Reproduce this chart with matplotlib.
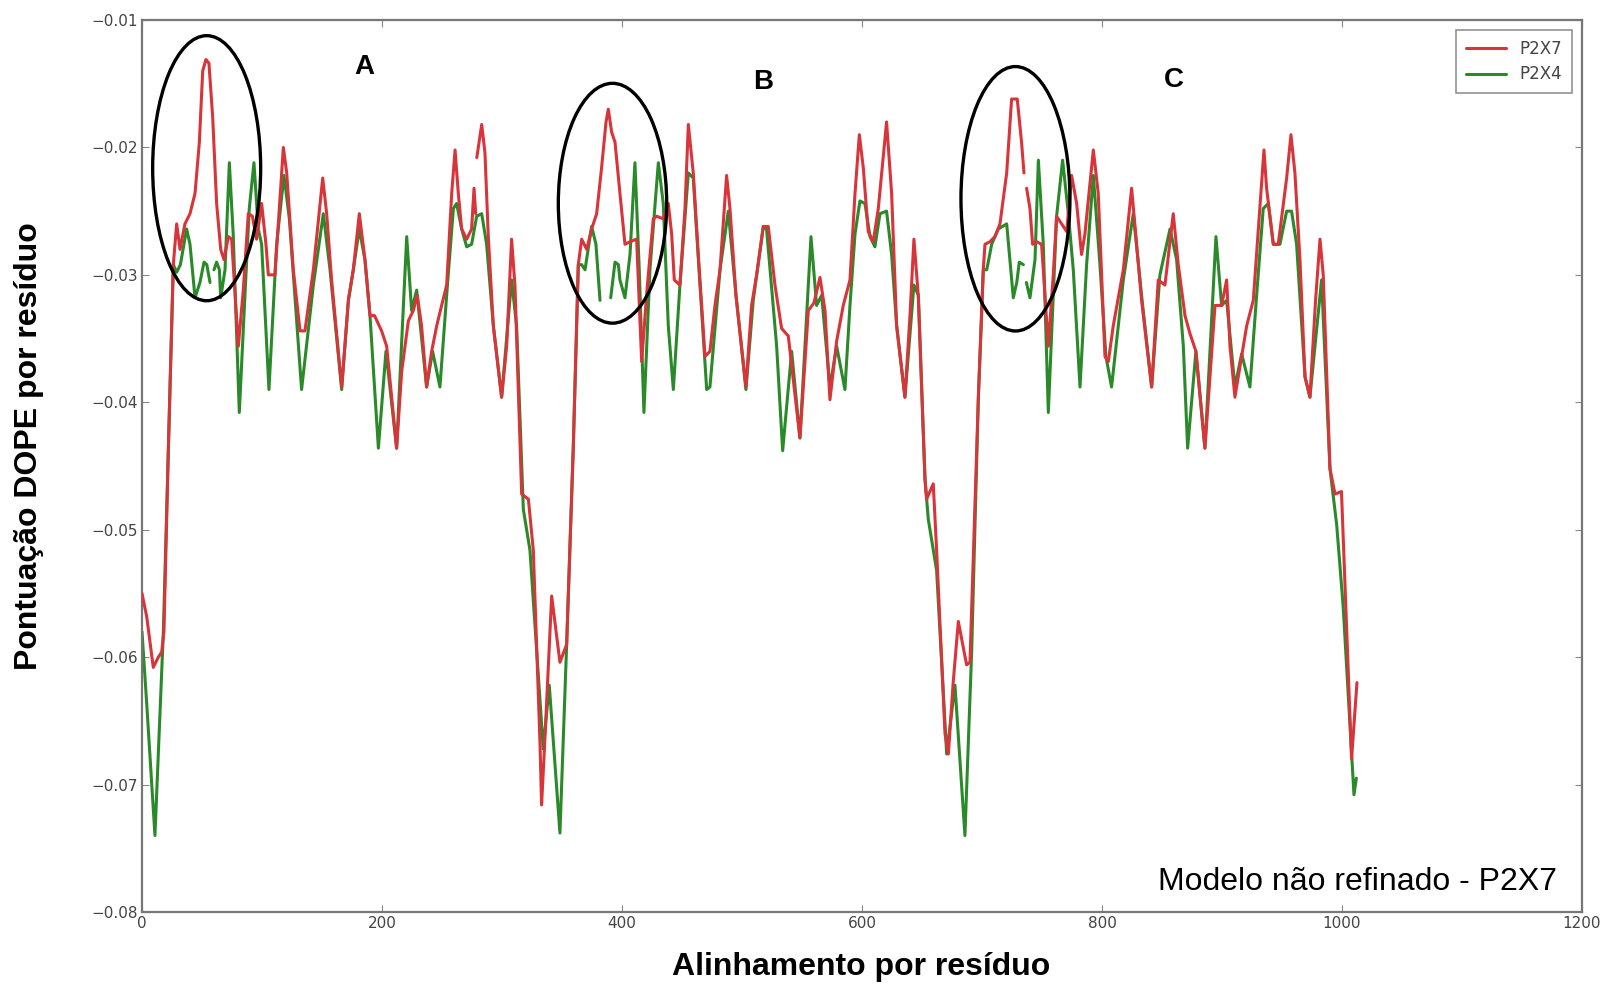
import numpy as np
import matplotlib
matplotlib.use("Agg")
import matplotlib.pyplot as plt
from matplotlib.patches import Ellipse

nan = np.nan

# ---------------- data ----------------
p2x7_x = [0, 3.9, 9.4, 13.6, 16.4, 18.3, 22, 26.1, 28.9, 31.7, 35.8, 40, 44.2, 47.8, 50.6, 53.3, 55.8, 58.9,
          62.2, 65.6, 68.3, 72, 74.7, 80.3, 84.4, 88.6, 92, 95.5, 99.7, 103.3, 105.3, 110.8, 117.8, 120.6,
          126.1, 131.7, 135.8, 142.8, 150.6, 153.9, 158, 166.4, 172, 176.1, 181.1, 185.8, 190, 193.8, 199.7,
          203.9, 212.2, 216.4, 222, 226.1, 229.4, 233, 237.2, 241.4, 245.6, 249.7, 253.9, 258.1, 260.9,
          263.6, 266.4, 270.6, 274.7, 276.7, 278.1, 278.5, 279, 283.1, 285.8, 288.6, 292.8, 299.7, 303.9,
          308, 310.8, 316.4, 322, 326.1, 331.7, 333, 336, 341.4, 348.3, 353.9, 359.4, 363.6, 366.4, 370.6,
          374.7, 378.9, 383, 386.7, 388.6, 391.4, 394.2, 398.3, 402.5, 406.7, 412.2, 416.4, 421, 426.1,
          428.9, 434.4, 438.6, 441.4, 443.6, 448.3, 452.5, 455.3, 459.4, 463.6, 469.2, 473.3, 477.5, 481.7,
          487.2, 490, 495, 503.3, 508, 512.2, 517.8, 521.9, 527.5, 533, 538.6, 548.3, 555.3, 560, 565,
          569.2, 573.3, 578.9, 584.4, 590, 594.2, 597.8, 601.1, 605.2, 609.4, 613.6, 620.5, 624.7, 628.9,
          635.8, 640, 643.3, 646.9, 652.5, 653.9, 659.4, 662.2, 669.2, 672, 676, 680.3, 687.2, 690, 697,
          701.1, 702.5, 706.7, 710.8, 715, 720.6, 724.7, 729.4, 733, 735, 736, 737.2, 740, 742.2, 745.5,
          749.7, 755.3, 759.4, 762.2, 767.8, 770.6, 774.7, 778.9, 783, 785.8, 792.8, 796.9, 802.5, 805.3,
          809.4, 817.8, 824.7, 828.9, 833, 841.4, 846.9, 852.5, 859.4, 863.6, 869.2, 873.3, 878.3, 885.8,
          894.2, 899.7, 903.9, 906.7, 910.8, 916.4, 920.6, 926.1, 935, 937.2, 942.8, 946.9, 953.9, 957.5,
          960.8, 965, 969.2, 973.3, 978, 981.7, 984.4, 990, 994.2, 999.6, 1008, 1012.5]
p2x7_y = [-0.055, -0.0568, -0.0608, -0.0600, -0.0596, -0.058, -0.0436, -0.0292, -0.026, -0.028, -0.026,
          -0.0252, -0.0236, -0.0196, -0.014, -0.0131, -0.0134, -0.0176, -0.0244, -0.028, -0.0288, -0.027,
          -0.0272, -0.0356, -0.0312, -0.0252, -0.0254, -0.0272, -0.0244, -0.0276, -0.030, -0.030, -0.020,
          -0.022, -0.0296, -0.0344, -0.0344, -0.0296, -0.0224, -0.0252, -0.0304, -0.0388, -0.032, -0.0296,
          -0.0252, -0.0288, -0.0332, -0.0332, -0.0344, -0.0356, -0.0436, -0.0376, -0.0336, -0.0328, -0.0316,
          -0.034, -0.0388, -0.036, -0.034, -0.0324, -0.0308, -0.0236, -0.0202, -0.0236, -0.0264, -0.0272,
          -0.0264, -0.0232, -0.0252, nan, -0.0208, -0.0182, -0.0204, -0.027, -0.034, -0.0396, -0.0356,
          -0.0272, -0.0308, -0.0472, -0.0476, -0.0516, -0.0668, -0.0716, -0.066, -0.0552, -0.0604, -0.059,
          -0.0436, -0.0292, -0.0272, -0.028, -0.0264, -0.0252, -0.0216, -0.018, -0.017, -0.0188, -0.0196,
          -0.0236, -0.0276, -0.0274, -0.0272, -0.0368, -0.031, -0.0256, -0.0254, -0.0256, -0.0244, -0.0268,
          -0.0304, -0.0308, -0.0248, -0.0182, -0.022, -0.0284, -0.0364, -0.036, -0.0324, -0.0296, -0.0222,
          -0.0248, -0.0316, -0.0388, -0.0324, -0.030, -0.0262, -0.0262, -0.0308, -0.0342, -0.0348, -0.0428,
          -0.0328, -0.0322, -0.0302, -0.0328, -0.0398, -0.0352, -0.0324, -0.0304, -0.0236, -0.019, -0.0216,
          -0.0266, -0.0274, -0.0248, -0.018, -0.0236, -0.034, -0.0396, -0.0332, -0.0272, -0.0316, -0.046,
          -0.0476, -0.0464, -0.0516, -0.066, -0.0676, -0.062, -0.0572, -0.0606, -0.0604, -0.0396, -0.0296,
          -0.0276, -0.0274, -0.027, -0.026, -0.022, -0.0162, -0.0162, -0.0196, -0.022, nan, -0.0232, -0.0248,
          -0.0276, -0.0274, -0.0276, -0.0356, -0.030, -0.0254, -0.0262, -0.0266, -0.0222, -0.0244, -0.0284,
          -0.0268, -0.0202, -0.0236, -0.0364, -0.0368, -0.034, -0.0296, -0.0232, -0.0276, -0.032, -0.0388,
          -0.0304, -0.0308, -0.0252, -0.0292, -0.0332, -0.0346, -0.036, -0.0436, -0.0324, -0.0324, -0.0304,
          -0.0356, -0.0396, -0.0364, -0.034, -0.032, -0.0202, -0.0232, -0.0276, -0.0276, -0.0224, -0.019,
          -0.022, -0.0288, -0.038, -0.0396, -0.032, -0.0272, -0.030, -0.0452, -0.0472, -0.047, -0.068, -0.062]

p2x4_x = [0, 3.9, 10.8, 17.8, 22, 26.1, 28.9, 32, 37.2, 40, 44.2, 48.3, 51.7, 54, 56.7, 58, 60, 62.2, 64.5,
          65.6, 69.2, 72.8, 76, 81.1, 85.8, 89.4, 93.3, 96.9, 99.7, 105.8, 112.2, 118.3, 122.8, 133, 142.8,
          151.1, 156.7, 166.4, 172, 176.1, 181.1, 185.8, 190, 197, 203.3, 212.2, 220.6, 224.7, 228.9, 237.2,
          242.2, 248.3, 253.9, 259.5, 262.2, 266.4, 270.6, 274.7, 278.9, 283.1, 287.2, 292.8, 299.7, 308,
          312.2, 317.8, 323.3, 334.4, 339.4, 348.3, 353.9, 359.4, 363.6, 366.4, 369.2, 374.7, 378.3, 381.7,
          386, 390.6, 394.2, 397, 398.3, 402.5, 406.7, 410.8, 414.4, 418.3, 423.3, 430.3, 434.4, 438.6,
          442.8, 448.3, 455.3, 459.4, 465, 470.6, 473.3, 481.7, 488.6, 495, 503.3, 509.4, 517.8, 520.5,
          528.9, 533.9, 541.4, 548.3, 557.5, 562.2, 566.4, 573.3, 578.9, 585.8, 590, 594.2, 598.3, 602.5,
          606.7, 610.8, 615, 620.5, 624.7, 628.9, 635.8, 643.3, 647, 652.5, 655.3, 662.2, 670.6, 677.5,
          685.8, 691.4, 697, 701.1, 704, 708.1, 713.6, 720.6, 726.1, 729, 731.1, 734.5, 735.5, 737, 740,
          744.2, 747, 751.1, 755.3, 762.2, 767.2, 772, 776.1, 781.7, 787.2, 792.8, 798.3, 803.3, 808, 813.6,
          817.8, 826.1, 833, 841.4, 848.3, 856.7, 862.2, 867.8, 871.4, 878.3, 885.8, 895, 899.7, 903.9,
          910.8, 916.4, 923.3, 928.9, 934.4, 938.6, 942.8, 948.3, 953.9, 958, 962.2, 969.2, 973.3, 983,
          990, 995.6, 1001, 1010, 1012]
p2x4_y = [-0.058, -0.0636, -0.074, -0.058, -0.0436, -0.0292, -0.0298, -0.0292, -0.0264, -0.0276, -0.0318,
          -0.0306, -0.029, -0.0292, -0.0306, nan, -0.0296, -0.029, -0.0296, -0.0318, -0.0296, -0.0212,
          -0.0268, -0.0408, -0.0316, -0.0248, -0.0212, -0.0264, -0.0276, -0.039, -0.0276, -0.0222, -0.0256,
          -0.039, -0.0308, -0.0252, -0.0296, -0.039, -0.032, -0.0296, -0.0264, -0.0288, -0.0332, -0.0436,
          -0.036, -0.0436, -0.027, -0.0328, -0.0312, -0.0388, -0.036, -0.0388, -0.0316, -0.0248, -0.0244,
          -0.0264, -0.0278, -0.0276, -0.0254, -0.0252, -0.0276, -0.034, -0.0396, -0.0304, -0.034, -0.0484,
          -0.0516, -0.0672, -0.0622, -0.0738, -0.059, -0.0436, -0.0292, -0.0292, -0.0296, -0.0262, -0.0276,
          -0.032, nan, -0.0318, -0.029, -0.0292, -0.0304, -0.0318, -0.0284, -0.0212, -0.0296, -0.0408,
          -0.0296, -0.0212, -0.0244, -0.034, -0.039, -0.0308, -0.022, -0.0224, -0.0308, -0.039, -0.0388,
          -0.0296, -0.025, -0.0316, -0.039, -0.032, -0.0262, -0.0264, -0.0356, -0.0438, -0.036, -0.0428,
          -0.027, -0.0324, -0.0316, -0.0388, -0.0356, -0.039, -0.0324, -0.0268, -0.0242, -0.0244, -0.027,
          -0.0278, -0.0252, -0.025, -0.0284, -0.034, -0.0396, -0.0308, -0.0316, -0.046, -0.0492, -0.0532,
          -0.0676, -0.0622, -0.074, -0.0596, -0.0396, -0.0296, -0.0296, -0.0276, -0.0264, -0.026, -0.0318,
          -0.0306, -0.029, -0.0292, nan, -0.0306, -0.0318, -0.0288, -0.021, -0.0276, -0.0408, -0.0254,
          -0.021, -0.0252, -0.0296, -0.0388, -0.0292, -0.0222, -0.0292, -0.0364, -0.0388, -0.034, -0.0304,
          -0.0252, -0.0316, -0.0388, -0.030, -0.0264, -0.0288, -0.0356, -0.0436, -0.036, -0.0436, -0.027,
          -0.0324, -0.032, -0.0388, -0.0362, -0.0388, -0.0316, -0.0248, -0.0244, -0.0276, -0.0276, -0.025,
          -0.025, -0.0276, -0.038, -0.0396, -0.0304, -0.0452, -0.0496, -0.056, -0.0708, -0.0695]

series_names = ["P2X7", "P2X4"]
x_ticks = [0, 200, 400, 600, 800, 1000, 1200]
y_ticks = [-0.08, -0.07, -0.06, -0.05, -0.04, -0.03, -0.02, -0.01]
region_labels = ["A", "B", "C"]
region_label_x = [185, 518, 860]
region_label_y = [-0.0137, -0.0149, -0.0147]
ellipse_cx = [53.9, 392.1, 727.9]
ellipse_cy = [-0.02163, -0.02438, -0.02403]
ellipse_w = [90, 90.3, 90.8]
ellipse_h = [0.0208, 0.01882, 0.02075]

# ---------------- figure ----------------
fig = plt.figure(figsize=(16.08, 9.85), dpi=100)
ax = fig.add_axes([0.0883, 0.0741, 0.8955, 0.9056])

red = "#d8343a"
green = "#2a8a2a"
ax.plot(p2x7_x, p2x7_y, color=red, lw=2.2, label=series_names[0], zorder=3,
        solid_joinstyle="round", solid_capstyle="round")
ax.plot(p2x4_x, p2x4_y, color=green, lw=2.2, label=series_names[1], zorder=2,
        solid_joinstyle="round", solid_capstyle="round")

ax.set_xlim(0, 1200)
ax.set_ylim(-0.08, -0.01)
ax.set_xticks(x_ticks)
ax.set_yticks(y_ticks)
ax.set_xticklabels([str(t) for t in x_ticks])
ax.set_yticklabels(["\u2212%.2f" % abs(t) for t in y_ticks])
ax.tick_params(direction="in", top=True, right=True, length=5, width=0.8,
               labelsize=11, labelcolor="#444444", color="#888888", pad=3)
for s in ax.spines.values():
    s.set_color("#777777")
    s.set_linewidth(1.6)

for cx, cy, w, h in zip(ellipse_cx, ellipse_cy, ellipse_w, ellipse_h):
    ax.add_patch(Ellipse((cx, cy), w, h, fill=False, edgecolor="black", lw=2.4, zorder=5))

for t, x, y in zip(region_labels, region_label_x, region_label_y):
    ax.text(x, y, t, fontsize=20, fontweight="bold", family="Liberation Sans",
            ha="center", va="center", zorder=6)

ax.text(0.9825, 0.034, "Modelo não refinado - P2X7", transform=ax.transAxes, ha="right", va="center",
        fontsize=23, family="Liberation Sans", color="black")

leg = ax.legend(loc="upper right", fontsize=12, frameon=True, fancybox=False,
                borderaxespad=0.6, handlelength=2.4, labelspacing=0.45, borderpad=0.6)
leg.get_frame().set_edgecolor("#777777")
leg.get_frame().set_linewidth(1.2)
for txt in leg.get_texts():
    txt.set_color("#444444")

fig.text(861 / 1608, 1 - 967 / 985, "Alinhamento por resíduo", ha="center", va="center",
         fontsize=23, fontweight="bold", family="Liberation Sans")
fig.text(29 / 1608, 1 - 446 / 985, "Pontuação DOPE por resíduo", ha="center", va="center",
         rotation=90, fontsize=23, fontweight="bold", family="Liberation Sans")

fig.savefig("out.png", dpi=100, facecolor="white")
